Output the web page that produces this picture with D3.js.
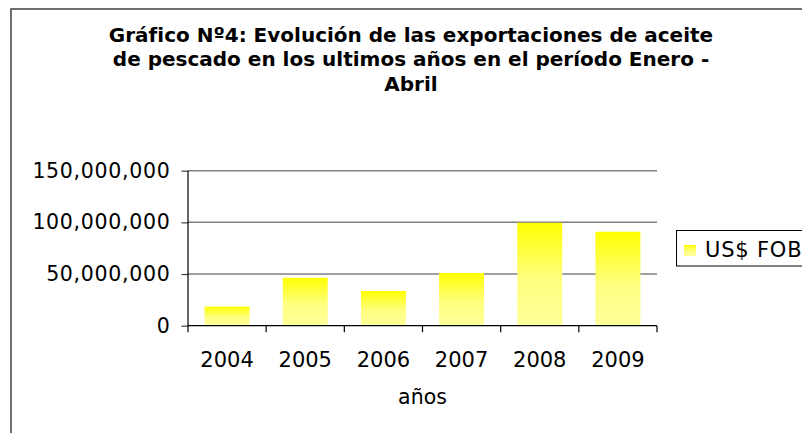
<!DOCTYPE html>
<html lang='es'>
<head>
  <meta charset='UTF-8'>
  <title>Gráfico Nº4</title>
  <script src="https://d3js.org/d3.v7.min.js"></script>
  <style>
    body { margin: 0; background: #fff; }
    svg { display: block; font-family: 'DejaVu Sans', Verdana, sans-serif; }
  </style>
</head>
<body>
  <div id="chart"></div>
  <script>
    // datos
    const years = ['2004', '2005', '2006', '2007', '2008', '2009'];
    const fob = [18400000, 46400000, 33600000, 51000000, 99600000, 90900000];
    const yTicks = [0, 50000000, 100000000, 150000000];
    const titleLines = [
      'Gráfico Nº4: Evolución de las exportaciones de aceite',
      'de pescado en los ultimos años en el período Enero -',
      'Abril'
    ];
    const seriesName = 'US$ FOB';
    const xTitle = 'años';

    const width = 802;
    const height = 433;

    const svg = d3.select('#chart')
      .append('svg')
      .attr('width', width)
      .attr('height', height);

    // degradado de las barras
    const grad = svg.append('defs')
      .append('linearGradient')
      .attr('id', 'barGrad')
      .attr('x1', 0).attr('y1', 0)
      .attr('x2', 0).attr('y2', 1);
    grad.append('stop').attr('offset', '0%').attr('stop-color', '#ffff00');
    grad.append('stop').attr('offset', '55%').attr('stop-color', '#ffff80');
    grad.append('stop').attr('offset', '100%').attr('stop-color', '#ffff99');

    // borde del área del gráfico
    svg.append('path')
      .attr('d', 'M11,433 V9 H802')
      .attr('fill', 'none')
      .attr('stroke', '#404040')
      .attr('stroke-width', 1.5);

    // título
    svg.append('text')
      .attr('text-anchor', 'middle')
      .attr('font-weight', 'bold')
      .attr('font-size', 20)
      .selectAll('tspan')
      .data(titleLines)
      .join('tspan')
      .attr('x', 411)
      .attr('y', (d, i) => 41.5 + i * 24.8)
      .text((d) => d);

    const plot = { left: 188, right: 657, top: 170.7, bottom: 325.7 };

    const xScale = d3.scaleBand()
      .domain(years)
      .range([plot.left, plot.right])
      .paddingInner(0.425)
      .paddingOuter(0.2125);

    const yScale = d3.scaleLinear()
      .domain([0, 150000000])
      .range([plot.bottom, plot.top]);

    // líneas de división
    svg.append('g')
      .selectAll('line')
      .data(yTicks.slice(1))
      .join('line')
      .attr('x1', plot.left)
      .attr('x2', plot.right)
      .attr('y1', (d) => yScale(d))
      .attr('y2', (d) => yScale(d))
      .attr('stroke', '#808080')
      .attr('stroke-width', 1.5);

    // barras
    svg.append('g')
      .selectAll('rect')
      .data(fob)
      .join('rect')
      .attr('x', (d, i) => xScale(years[i]))
      .attr('y', (d) => yScale(d))
      .attr('width', xScale.bandwidth())
      .attr('height', (d) => yScale(0) - yScale(d))
      .attr('fill', 'url(#barGrad)');

    // eje y
    const yAxis = d3.axisLeft(yScale)
      .tickValues(yTicks)
      .tickSize(6.5)
      .tickSizeOuter(0)
      .tickPadding(11)
      .tickFormat(d3.format(','));

    const gy = svg.append('g')
      .attr('transform', `translate(${plot.left}, 0)`)
      .call(yAxis);
    gy.select('.domain').remove();
    gy.selectAll('.tick line').attr('stroke', '#404040').attr('stroke-width', 1.2);
    gy.selectAll('.tick text')
      .attr('font-family', 'DejaVu Sans, Verdana, sans-serif')
      .attr('font-size', 20.5)
      .attr('letter-spacing', 0.7)
      .attr('fill', '#000');
    gy.append('line')
      .attr('x1', 0).attr('x2', 0)
      .attr('y1', plot.top).attr('y2', plot.bottom + 6.5)
      .attr('stroke', '#000')
      .attr('stroke-width', 1.2);

    // eje x
    const tickScale = d3.scaleLinear()
      .domain([0, years.length])
      .range([plot.left, plot.right]);

    const gx = svg.append('g');
    gx.append('line')
      .attr('x1', plot.left).attr('x2', plot.right)
      .attr('y1', plot.bottom).attr('y2', plot.bottom)
      .attr('stroke', '#000')
      .attr('stroke-width', 1.2);
    gx.selectAll('.sep')
      .data(d3.range(1, years.length + 1))
      .join('line')
      .attr('class', 'sep')
      .attr('x1', (d) => tickScale(d))
      .attr('x2', (d) => tickScale(d))
      .attr('y1', plot.bottom)
      .attr('y2', plot.bottom + 6.5)
      .attr('stroke', '#000')
      .attr('stroke-width', 1.2);
    gx.selectAll('.lbl')
      .data(years)
      .join('text')
      .attr('class', 'lbl')
      .attr('x', (d) => xScale(d) + xScale.bandwidth() / 2)
      .attr('y', 366.5)
      .attr('text-anchor', 'middle')
      .attr('font-size', 21)
      .text((d) => d);

    svg.append('text')
      .attr('x', (plot.left + plot.right) / 2)
      .attr('y', 404)
      .attr('text-anchor', 'middle')
      .attr('font-size', 20.5)
      .text(xTitle);

    // leyenda
    const legend = svg.append('g');
    legend.append('rect')
      .attr('x', 676.5)
      .attr('y', 230.5)
      .attr('width', 140)
      .attr('height', 35.5)
      .attr('fill', '#fff')
      .attr('stroke', '#000')
      .attr('stroke-width', 1);
    legend.append('rect')
      .attr('x', 684)
      .attr('y', 245)
      .attr('width', 12)
      .attr('height', 11)
      .attr('fill', 'url(#barGrad)');
    legend.append('text')
      .attr('x', 705)
      .attr('y', 257)
      .attr('font-size', 21)
      .attr('letter-spacing', 0.8)
      .text(seriesName);
  </script>
</body>
</html>
